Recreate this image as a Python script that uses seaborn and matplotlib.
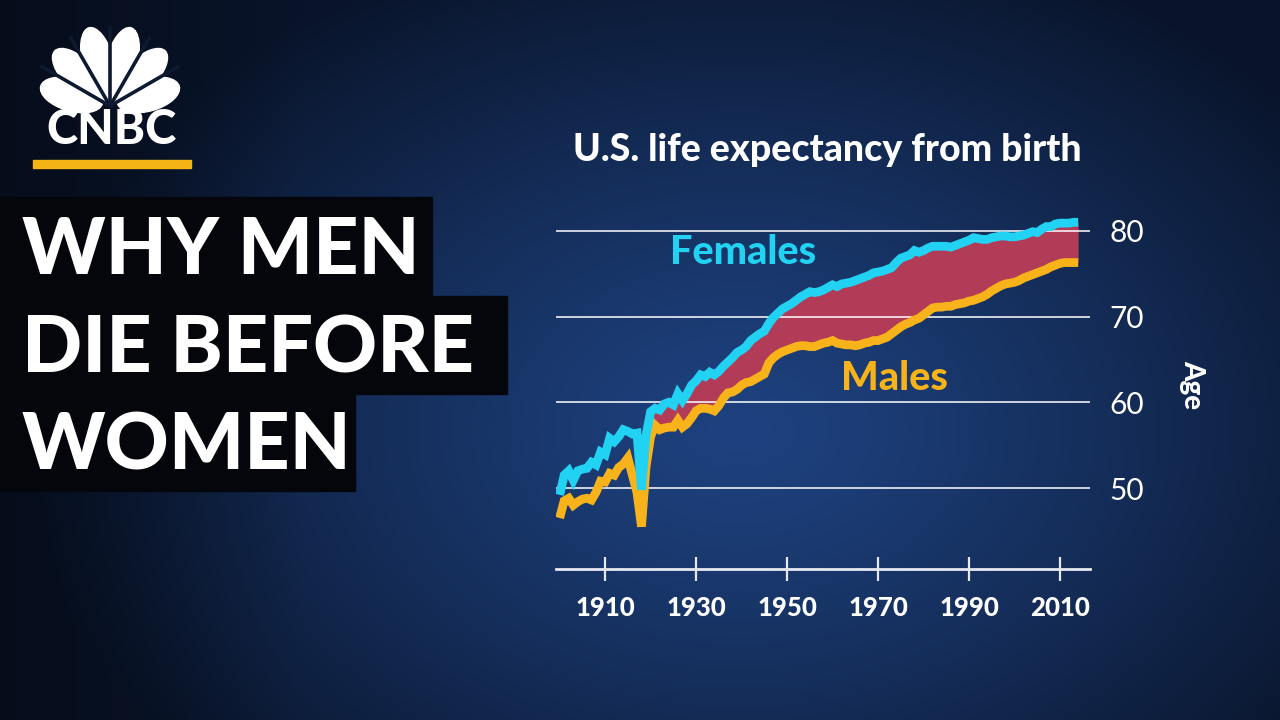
import numpy as np
import pandas as pd
import matplotlib
matplotlib.use("Agg")
import matplotlib.pyplot as plt
from matplotlib.patches import Rectangle, Ellipse
import seaborn as sns

# values
years = list(range(1900, 2015))
females = [49.2, 51.5, 52.0, 50.9, 52.0, 52.2, 52.3, 53.0, 52.7, 54.2,
           53.9, 55.8, 55.4, 56.0, 56.8, 56.6, 56.3, 56.4, 49.8, 56.2,
           58.9, 59.3, 59.1, 59.8, 60.0, 59.7, 61.0, 60.2, 61.0, 62.0,
           62.5, 63.2, 63.0, 63.5, 63.2, 63.6, 64.2, 64.7, 65.2, 65.8,
           66.1, 66.5, 67.2, 67.6, 68.0, 68.3, 69.2, 69.9, 70.4, 70.9,
           71.2, 71.5, 71.9, 72.3, 72.6, 72.9, 72.8, 72.9, 73.1, 73.4,
           73.7, 73.5, 73.8, 73.9, 74.0, 74.2, 74.4, 74.6, 74.8, 75.1,
           75.2, 75.3, 75.5, 75.7, 76.3, 76.8, 77.0, 77.2, 77.7, 77.5,
           77.7, 78.0, 78.2, 78.2, 78.2, 78.2, 78.1, 78.3, 78.5, 78.7,
           78.9, 79.2, 79.1, 79.0, 79.0, 79.2, 79.3, 79.4, 79.4, 79.3,
           79.3, 79.4, 79.5, 79.7, 79.9, 79.8, 80.2, 80.5, 80.5, 80.8,
           80.9, 80.9, 80.9, 81.0, 81.0]
males = [46.5, 48.5, 48.8, 48.0, 48.4, 48.7, 48.8, 48.6, 49.5, 50.8,
         50.7, 51.7, 51.5, 52.4, 52.8, 53.5, 51.5, 49.5, 45.5, 52.5,
         56.0, 57.3, 56.8, 57.0, 57.1, 57.1, 57.9, 57.1, 57.5, 58.2,
         59.0, 59.3, 59.3, 59.2, 59.0, 59.6, 60.5, 61.1, 61.2, 61.5,
         62.0, 62.3, 62.4, 62.7, 63.0, 63.3, 64.6, 65.2, 65.6, 65.9,
         66.1, 66.3, 66.5, 66.6, 66.6, 66.5, 66.5, 66.7, 66.9, 67.0,
         67.2, 66.9, 66.8, 66.7, 66.7, 66.6, 66.7, 66.9, 67.0, 67.2,
         67.2, 67.4, 67.6, 68.0, 68.4, 68.8, 69.1, 69.3, 69.6, 69.8,
         70.2, 70.6, 71.0, 71.1, 71.1, 71.2, 71.2, 71.4, 71.5, 71.6,
         71.8, 71.9, 72.1, 72.3, 72.6, 73.0, 73.3, 73.6, 73.8, 73.9,
         74.0, 74.2, 74.5, 74.7, 74.9, 75.1, 75.3, 75.5, 75.8, 76.0,
         76.2, 76.3, 76.3, 76.3, 76.3]
gap_start = 1920
x_ticks = [1910, 1930, 1950, 1970, 1990, 2010]
y_ticks = [50, 60, 70, 80]
headline = ["WHY MEN", "DIE BEFORE", "WOMEN"]

CYAN = "#22d2f3"
ORANGE = "#f8b31b"
GAP = "#b23b58"

sns.set_theme(style="white")
plt.rcParams["font.family"] = ["Lato", "DejaVu Sans"]

df = pd.DataFrame({"year": years * 2,
                   "age": females + males,
                   "sex": ["Females"] * len(years) + ["Males"] * len(years)})

fig = plt.figure(figsize=(12.8, 7.2), dpi=100)

# background: dark navy with a lighter blue glow behind the chart
bg = fig.add_axes([0, 0, 1, 1])
bg.set_xlim(0, 1280)
bg.set_ylim(720, 0)
bg.axis("off")
gx, gy = np.meshgrid(np.linspace(0, 1280, 320), np.linspace(0, 720, 180))
d = np.sqrt(((gx - 740) / 720) ** 2 + ((gy - 430) / 520) ** 2)
t = np.clip(d, 0, 1)[..., None] ** 1.2
inner = np.array([30, 66, 128]) / 255
outer = np.array([9, 20, 42]) / 255
img = inner * (1 - t) + outer * t
left_dark = np.clip((300 - gx) / 300, 0, 1)[..., None] * 0.35
img = img * (1 - left_dark)
bg.imshow(img, extent=(0, 1280, 720, 0), aspect="auto", interpolation="bicubic", zorder=0)

# CNBC logo (peacock made of six feathers)
base = (110, 106)
for ang, r, ln in [(-74, 40, 64), (-45, 42, 72), (-15, 42, 78),
                   (15, 42, 78), (45, 42, 72), (74, 40, 64)]:
    a = np.deg2rad(ang)
    cx = base[0] + r * np.sin(a)
    cy = base[1] - r * np.cos(a)
    bg.add_patch(Ellipse((cx, cy), 32, ln, angle=ang, color="white", zorder=2))
for ang in [-60, -30, 0, 30, 60]:
    a = np.deg2rad(ang)
    bg.plot([base[0], base[0] + 80 * np.sin(a)], [base[1], base[1] - 80 * np.cos(a)],
            color="#0e1a31", lw=2.6, zorder=3, solid_capstyle="butt")
bg.text(111, 130, "CNBC", color="white", fontsize=34, fontweight="black",
        ha="center", va="center", zorder=4)
bg.add_patch(Rectangle((33, 160), 158, 8, color="#f4b415", zorder=2))

# headline on black boxes
boxes = [(197, 432), (296, 507), (393, 355)]
for (top, right), line in zip(boxes, headline):
    bg.add_patch(Rectangle((0, top), right, 98, color="#04060b", zorder=2))
    bg.text(22, top + 54, line, color="white", fontsize=57, fontweight="black",
            ha="left", va="center", zorder=3)

# chart
ax = fig.add_axes([556 / 1280, 1 - 569 / 720, 534 / 1280, 369 / 720])
ax.patch.set_alpha(0)
ax.set_xlim(1899.2, 2016.6)
ax.set_ylim(40.55, 83.6)

gap_years = [y for y in years if y >= gap_start]
i0 = years.index(gap_start)
ax.fill_between(gap_years, males[i0:], females[i0:], color=GAP, lw=0, zorder=1)
for v in y_ticks:
    ax.axhline(v, color="white", lw=1.3, alpha=0.85, zorder=2)

sns.lineplot(data=df, x="year", y="age", hue="sex", hue_order=["Males", "Females"],
             palette={"Females": CYAN, "Males": ORANGE}, lw=6.3, legend=False,
             ax=ax, zorder=3)
for ln in ax.get_lines():
    ln.set_solid_joinstyle("miter")
    ln.set_solid_capstyle("butt")

for s in ["top", "left", "right"]:
    ax.spines[s].set_visible(False)
ax.spines["bottom"].set_color("#e6e9f0")
ax.spines["bottom"].set_linewidth(2)

ax.set_xticks(x_ticks)
ax.set_xticklabels([str(x) for x in x_ticks])
ax.tick_params(axis="x", bottom=True, direction="inout", length=17, width=1.6,
               color="#e6e9f0", labelcolor="white", labelsize=18.5, pad=11)
for lab in ax.get_xticklabels():
    lab.set_fontweight("black")

ax.yaxis.tick_right()
ax.set_yticks(y_ticks)
ax.set_yticklabels([str(v) for v in y_ticks])
ax.tick_params(axis="y", left=False, right=False, length=0, labelcolor="white",
               labelsize=21.5, pad=14)
ax.yaxis.set_label_position("right")
ax.set_ylabel("Age", color="white", fontsize=20, fontweight="black",
              rotation=270, labelpad=44)
ax.set_xlabel("")

ax.text(1940.3, 77.5, "Females", color=CYAN, fontsize=28.5, fontweight="black",
        ha="center", va="center")
ax.text(1973.6, 62.8, "Males", color=ORANGE, fontsize=28.5, fontweight="black",
        ha="center", va="center")

fig.text(827 / 1280, 1 - 150 / 720, "U.S. life expectancy from birth", color="white",
         fontsize=27, fontweight="black", ha="center", va="center")

fig.savefig("out.png", dpi=100)
